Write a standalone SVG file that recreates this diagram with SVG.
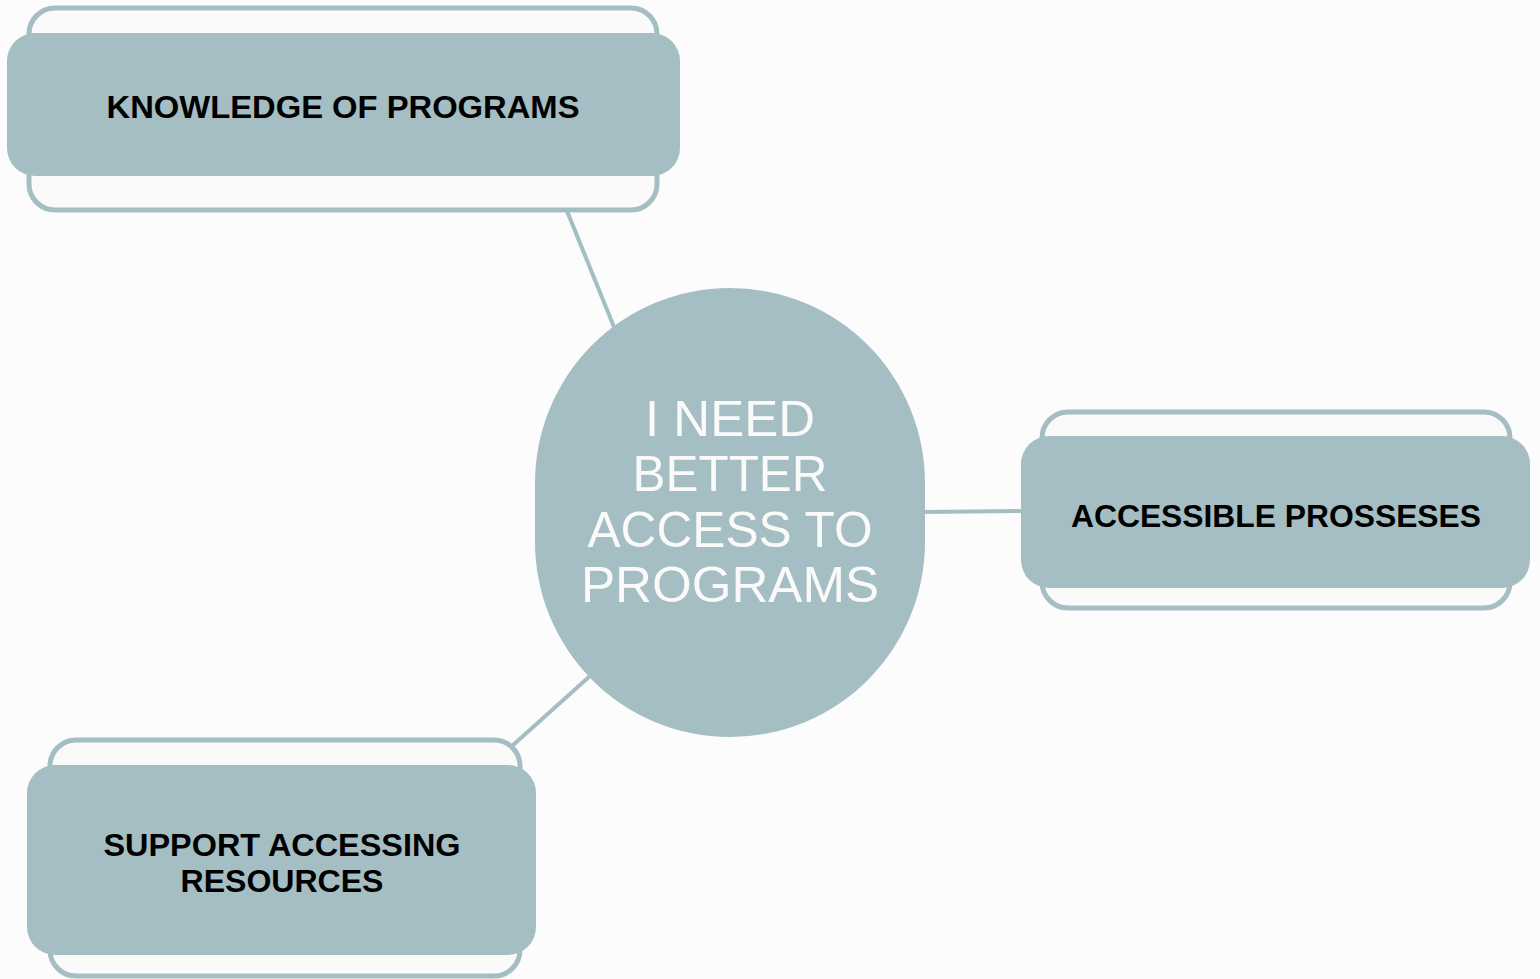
<svg xmlns="http://www.w3.org/2000/svg" width="1540" height="979" viewBox="0 0 1540 979">
<style>
.bg{fill:#fcfcfc}
.outline{fill:#fafafa;stroke:#a5bec3;stroke-width:5}
.fill{fill:#a5bec3}
.lbl{font-family:"Liberation Sans",Arial,sans-serif;font-weight:bold;font-size:31px;fill:#000;text-anchor:middle}
.ctr{font-family:"Liberation Sans",Arial,sans-serif;font-size:50px;fill:#fafafa;text-anchor:middle}
.conn{stroke:#a5bec3;stroke-width:4;fill:none}
</style>
<rect class="bg" x="0" y="0" width="1540" height="979"/>
<g id="connectors">
<line class="conn" x1="567" y1="211" x2="614" y2="327"/>
<line class="conn" x1="924" y1="512" x2="1022" y2="511"/>
<line class="conn" x1="590" y1="676" x2="512" y2="746"/>
</g>
<g id="node-knowledge">
<rect class="outline" x="29" y="8" width="628" height="202" rx="26"/>
<rect class="fill" x="7" y="33" width="673" height="143" rx="28"/>
<text class="lbl" x="343" y="118" textLength="473" lengthAdjust="spacingAndGlyphs">KNOWLEDGE OF PROGRAMS</text>
</g>
<g id="node-accessible">
<rect class="outline" x="1042" y="412" width="468" height="196" rx="26"/>
<rect class="fill" x="1021" y="436" width="509" height="152" rx="28"/>
<text class="lbl" x="1276" y="527" textLength="410" lengthAdjust="spacingAndGlyphs">ACCESSIBLE PROSSESES</text>
</g>
<g id="node-support">
<rect class="outline" x="50" y="740" width="470" height="236" rx="26"/>
<rect class="fill" x="27" y="765" width="509" height="190" rx="28"/>
<text class="lbl" x="282" y="856" textLength="357" lengthAdjust="spacingAndGlyphs">SUPPORT ACCESSING</text>
<text class="lbl" x="282" y="892" textLength="203" lengthAdjust="spacingAndGlyphs">RESOURCES</text>
</g>
<g id="node-center">
<rect class="fill" x="535" y="288" width="390" height="449" rx="195" ry="195"/>
<text class="ctr" x="730" y="436" textLength="170" lengthAdjust="spacingAndGlyphs">I NEED</text>
<text class="ctr" x="730" y="491" textLength="195" lengthAdjust="spacingAndGlyphs">BETTER</text>
<text class="ctr" x="730" y="547" textLength="285" lengthAdjust="spacingAndGlyphs">ACCESS TO</text>
<text class="ctr" x="730" y="602" textLength="298" lengthAdjust="spacingAndGlyphs">PROGRAMS</text>
</g>
</svg>
